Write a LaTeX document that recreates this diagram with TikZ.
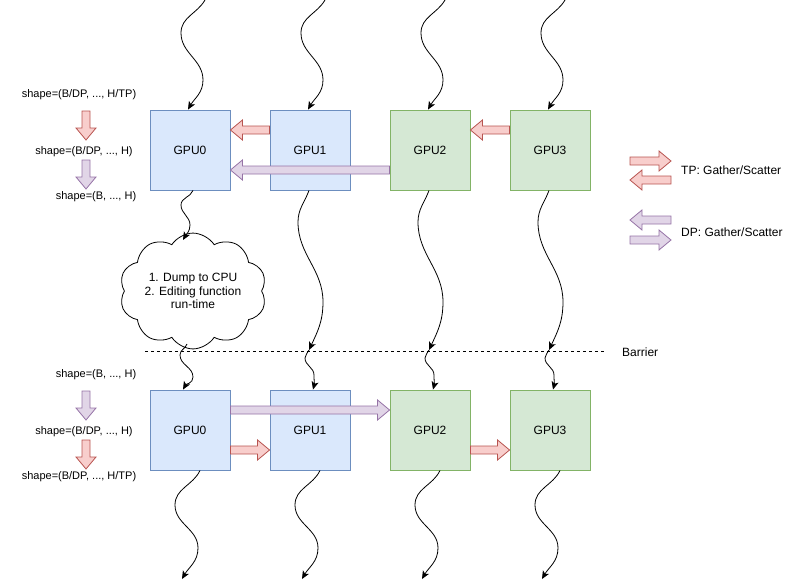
\documentclass[tikz,border=0pt]{standalone}
\usepackage{fontspec}
\setmainfont{Liberation Sans}
\usetikzlibrary{shapes.symbols,arrows.meta,calc}
\definecolor{bluefill}{HTML}{DAE8FC}
\definecolor{bluedraw}{HTML}{6C8EBF}
\definecolor{greenfill}{HTML}{D5E8D4}
\definecolor{greendraw}{HTML}{82B366}
\definecolor{redfill}{HTML}{F8CECC}
\definecolor{reddraw}{HTML}{B85450}
\definecolor{purpfill}{HTML}{E1D5E7}
\definecolor{purpdraw}{HTML}{9673A6}
\newcommand{\blockarrow}[3]{%
  \draw[#1] let \p1=#2, \p2=#3, \n1={atan2(\y2-\y1,\x2-\x1)}, \n2={veclen(\x2-\x1,\y2-\y1)} in
    [shift={(\p1)}, rotate=\n1] (0,4) -- ({\n2-12},4) -- ({\n2-12},10) -- (\n2,0) -- ({\n2-12},-10) -- ({\n2-12},-4) -- (0,-4) -- cycle;}
\tikzset{
  gpu/.style={draw, line width=0.9pt, minimum width=80pt, minimum height=80pt, inner sep=0pt, font=\fontsize{12}{14}\selectfont},
  conn/.style={-{Stealth[length=8pt,width=7pt,inset=2pt]}, line width=0.8pt},
  redblk/.style={draw=reddraw, fill=redfill, line width=0.8pt, line join=miter},
  purpblk/.style={draw=purpdraw, fill=purpfill, line width=0.8pt, line join=miter},
  shapetxt/.style={font=\fontsize{11}{13}\selectfont, inner sep=0pt},
  lgtxt/.style={font=\fontsize{12}{14}\selectfont, inner sep=0pt, anchor=west},
  barrierline/.style={line width=0.8pt, dash pattern=on 3pt off 3pt},
  cloudbox/.style={cloud, draw, line width=0.8pt, cloud puffs=10, cloud puff arc=115, aspect=1.4,
     minimum width=147pt, minimum height=107pt, inner sep=0pt, align=center,
     font=\fontsize{12}{13.5}\selectfont}
}
\begin{document}
\begin{tikzpicture}[x=1pt,y=1pt]
\useasboundingbox (0,0) rectangle (790,-581);

% GPU boxes
\foreach \i/\fc/\dc in {0/bluefill/bluedraw,1/bluefill/bluedraw,2/greenfill/greendraw,3/greenfill/greendraw}{
  \node[gpu, fill=\fc, draw=\dc] (tg\i) at ({190+120*\i},-150) {GPU\i};
  \node[gpu, fill=\fc, draw=\dc] (bg\i) at ({190+120*\i},-430) {GPU\i};
}

% cloud
\node[cloudbox] (cloud) at (193,-291) {1. Dump to CPU\\2. Editing function\\run-time};

% barrier
\coordinate (bl) at (145,-351);
\coordinate (br) at (605,-351);
\draw[barrierline] (bl) -- (br);
\node[lgtxt] (barrier) at (622,-352) {Barrier};

% wavy connectors
\foreach \i in {0,...,3}{
  \pgfmathsetmacro\cx{190+120*\i}
  \coordinate (ts\i) at (\cx+15,0);
  \draw[conn] (ts\i) to[out=-120,in=90] (\cx-9,-33) to[out=-90,in=90] (\cx+13,-80) to[out=-90,in=60] ($(tg\i.north)+(-2,0)$);
  \coordinate (be\i) at (\cx-8,-579);
  \draw[conn] ($(bg\i.south)+(10,0)$) to[out=-115,in=90] (\cx-15,-505) to[out=-90,in=90] (\cx+8,-548) to[out=-90,in=60] (be\i);
}
\foreach \i in {1,2,3}{
  \pgfmathsetmacro\cx{190+120*\i}
  \coordinate (bc\i) at (\cx-1,-350);
  \draw[conn] ($(tg\i.south)+(-1,0)$) to[out=-110,in=90] (\cx-12,-222) to[out=-90,in=90] (\cx+13,-302) to[out=-90,in=65] (bc\i);
  \draw[conn] (bc\i) to[out=-110,in=90] (\cx-5,-358) to[out=-90,in=90] (\cx+4,-375) to[out=-90,in=75] ($(bg\i.north)+(3,0)$);
}
\draw[conn] ($(tg0.south)+(3,0)$) to[out=-110,in=90] (181,-205) to[out=-90,in=90] (190,-225) to[out=-90,in=60] ($(cloud.center)+(-10,51)$);
\draw[conn] ($(cloud.center)+(-6,-53)$) to[out=-110,in=90] (180,-355) to[out=-90,in=90] (193,-377) to[out=-90,in=60] ($(bg0.north)+(-7,0)$);

% block arrows between GPUs
\blockarrow{redblk}{($(tg1.west)+(0,20)$)}{($(tg0.east)+(0,20)$)}
\blockarrow{redblk}{($(tg3.west)+(0,20)$)}{($(tg2.east)+(0,20)$)}
\blockarrow{purpblk}{($(tg2.west)+(0,-20)$)}{($(tg0.east)+(0,-20)$)}
\blockarrow{purpblk}{($(bg0.east)+(0,20)$)}{($(bg2.west)+(0,20)$)}
\blockarrow{redblk}{($(bg0.east)+(0,-20)$)}{($(bg1.west)+(0,-20)$)}
\blockarrow{redblk}{($(bg2.east)+(0,-20)$)}{($(bg3.west)+(0,-20)$)}

% left shape labels
\node[shapetxt] (t1) at (79,-95) {shape=(B/DP, ..., H/TP)};
\node[shapetxt] (t2) at (84,-152) {shape=(B/DP, ..., H)};
\node[shapetxt] (t3) at (96,-197) {shape=(B, ..., H)};
\blockarrow{redblk}{(86,-111)}{(86,-140)}
\blockarrow{purpblk}{(86,-160)}{(86,-189)}
\node[shapetxt] (b1) at (96,-375) {shape=(B, ..., H)};
\node[shapetxt] (b2) at (84,-432) {shape=(B/DP, ..., H)};
\node[shapetxt] (b3) at (79,-477) {shape=(B/DP, ..., H/TP)};
\blockarrow{purpblk}{(86,-391)}{(86,-420)}
\blockarrow{redblk}{(86,-440)}{(86,-469)}

% legend
\blockarrow{redblk}{(630,-161)}{(671,-161)}
\blockarrow{redblk}{(671,-180)}{(630,-180)}
\node[lgtxt] (tpl) at (681,-170) {TP: Gather/Scatter};
\blockarrow{purpblk}{(671,-220)}{(630,-220)}
\blockarrow{purpblk}{(630,-240)}{(671,-240)}
\node[lgtxt] (dpl) at (681,-232) {DP: Gather/Scatter};
\end{tikzpicture}
\end{document}
